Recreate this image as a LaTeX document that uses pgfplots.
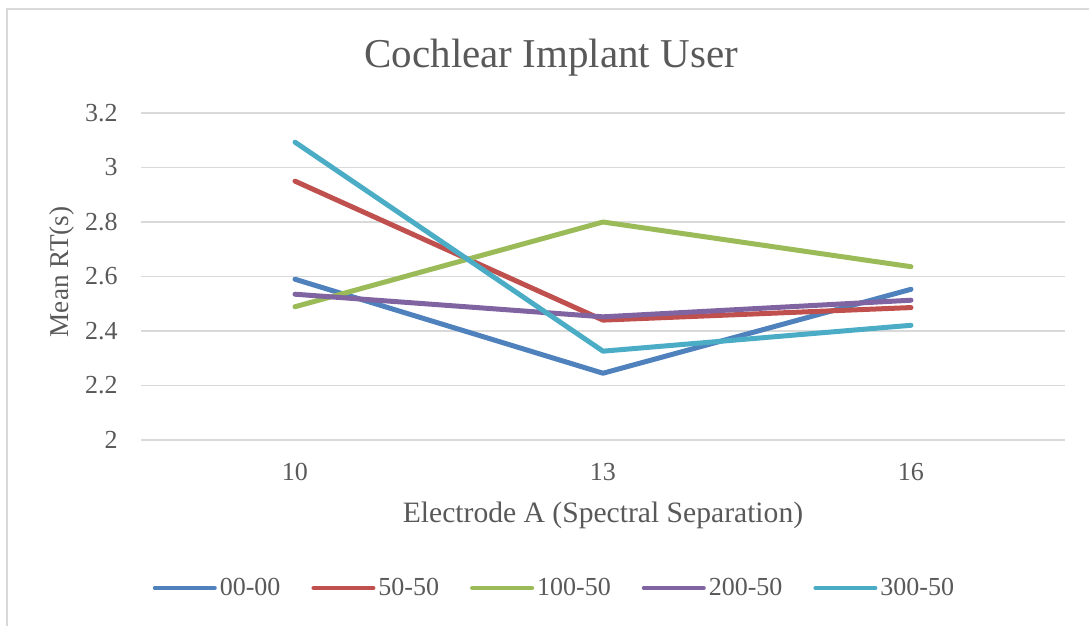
\documentclass[border=0pt]{standalone}
\usepackage{fontspec}
\setmainfont{Liberation Serif}
\usepackage{pgfplots}
\pgfplotsset{compat=1.18}
\definecolor{sblue}{HTML}{4F81BD}
\definecolor{sred}{HTML}{C0504D}
\definecolor{sgreen}{HTML}{9BBB59}
\definecolor{spurple}{HTML}{8064A2}
\definecolor{saqua}{HTML}{4BACC6}
\definecolor{txtgray}{HTML}{595959}
\definecolor{gridgray}{HTML}{D9D9D9}

\begin{document}
\begin{tikzpicture}[x=1pt, y=1pt]
% chart frame (only top and left edges show in the original crop)
\useasboundingbox (0,0) rectangle (544.5,-313);
\draw[line width=1pt, gridgray] (3.5,-313) -- (3.5,-4.5) -- (544.5,-4.5);
\begin{axis}[
  scale only axis, width=462pt, height=163.5pt,
  at={(70.5pt,-220pt)}, anchor=south west,
  xmin=-0.5, xmax=2.5, ymin=2, ymax=3.2,
  xtick={0,1,2}, xticklabels={10,13,16},
  ytick={2,2.2,2.4,2.6,2.8,3,3.2},
  yticklabels={2,2.2,2.4,2.6,2.8,3,3.2},
  major tick length=0pt,
  axis line style={draw=none},
  ymajorgrids, grid style={gridgray, line width=0.8pt},
  /pgf/number format/assume math mode=true,
  tick label style={font=\fontsize{13}{15}\selectfont, text=txtgray},
  yticklabel style={anchor=east, inner sep=0pt, xshift=-11.5pt},
  xticklabel style={anchor=north, inner sep=0pt, yshift=-11.5pt},
  every axis title shift=0pt,
  title={Cochlear Implant User},
  title style={font=\fontsize{20.5}{24}\selectfont, text=txtgray,
    at={(0.444,1.168)}, anchor=center},
  xlabel={Electrode A (Spectral Separation)},
  xlabel style={font=\fontsize{14.8}{17}\selectfont, text=txtgray,
    at={(0.5,-0.229)}, anchor=center},
  ylabel={Mean RT(s)},
  ylabel style={font=\fontsize{13.6}{16}\selectfont, text=txtgray,
    at={(-0.0855,0.514)}, anchor=center},
  legend columns=5,
  legend style={draw=none, fill=none, at={(0.448,-0.4526)}, anchor=center,
    font=\fontsize{13}{15}\selectfont, text=txtgray,
    /tikz/every even column/.append style={column sep=14pt},
    nodes={inner sep=1.5pt}},
  legend image code/.code={\draw[#1, line width=2pt, line cap=round] (0pt,0pt) -- (30pt,0pt);},
  every axis plot/.append style={line width=2.5pt, line join=round, line cap=round, mark=none},
]
\addplot[sblue] coordinates {(0,2.590) (1,2.245) (2,2.553)};
\addlegendentry{00-00}
\addplot[sred] coordinates {(0,2.950) (1,2.440) (2,2.486)};
\addlegendentry{50-50}
\addplot[sgreen] coordinates {(0,2.489) (1,2.800) (2,2.636)};
\addlegendentry{100-50}
\addplot[spurple] coordinates {(0,2.535) (1,2.452) (2,2.513)};
\addlegendentry{200-50}
\addplot[saqua] coordinates {(0,3.093) (1,2.326) (2,2.421)};
\addlegendentry{300-50}
\end{axis}
\end{tikzpicture}
\end{document}
